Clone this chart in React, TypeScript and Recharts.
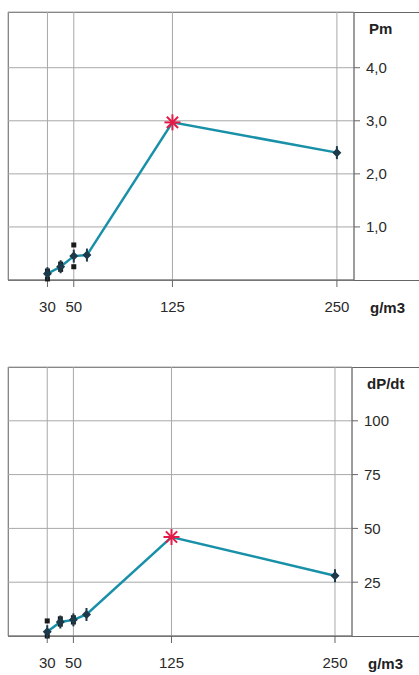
import React from 'react';
import { ComposedChart, Line, Scatter, XAxis, YAxis, CartesianGrid } from 'recharts';

// dust concentration (g/m3)
const dust = [30, 40, 50, 60, 125, 250];
const pmMean = [0.12, 0.25, 0.45, 0.47, 2.97, 2.4];
const dpdtMean = [2, 6.5, 7.5, 10, 46, 28];

// single measurements
const sampleX = [30, 30, 40, 40, 50, 50];
const pmSamples = [0.17, 0.02, 0.2, 0.3, 0.66, 0.25];
const dpdtSamples = [7, 0, 5.5, 8, 6.5, 8.5];

const xTicks = [30, 50, 125, 250];
const pmTicks = [1, 2, 3, 4];
const dpdtTicks = [25, 50, 75, 100];

const FONT = '"Liberation Sans", Arial, sans-serif';
const GRID = '#a8a8a8';
const AXIS = '#666';
const LINE = '#1890a8';
const MARK = '#1c3a4a';
const STAR = '#e31b48';

const MeanDot = (props: any) => {
  const { cx, cy, payload, index } = props;
  if (cx == null || cy == null) return null;
  if (payload.x === 125) {
    const r = 8;
    return (
      <g key={`d-${index}`} stroke={STAR} strokeWidth={2}>
        <line x1={cx - r} y1={cy} x2={cx + r} y2={cy} />
        <line x1={cx} y1={cy - r} x2={cx} y2={cy + r} />
        <line x1={cx - r * 0.7} y1={cy - r * 0.7} x2={cx + r * 0.7} y2={cy + r * 0.7} />
        <line x1={cx - r * 0.7} y1={cy + r * 0.7} x2={cx + r * 0.7} y2={cy - r * 0.7} />
      </g>
    );
  }
  return (
    <g key={`d-${index}`}>
      <path d={`M${cx},${cy - 4.5}L${cx + 4.5},${cy}L${cx},${cy + 4.5}L${cx - 4.5},${cy}Z`} fill={MARK} />
      <line x1={cx} y1={cy - 6.5} x2={cx} y2={cy + 6.5} stroke={MARK} strokeWidth={2} />
    </g>
  );
};

const Square = (props: any) => {
  const { cx, cy } = props;
  return <rect x={cx - 2.5} y={cy - 2.5} width={5} height={5} fill="#1a1a1a" />;
};

const fmtPm = (v: number) => v.toFixed(1).replace('.', ',');

interface PanelProps {
  top: number;
  height: number;
  axisW: number;
  lineData: { x: number; y: number }[];
  sampleData: { x: number; y: number }[];
  yMax: number;
  yTicks: number[];
  yFmt?: (v: number) => string;
  yTitle: string;
}

const Panel: React.FC<PanelProps> = ({ top, height, axisW, lineData, sampleData, yMax, yTicks, yFmt, yTitle }) => {
  const plotBottom = height - 5 - 35;
  return (
    <div style={{ position: 'absolute', left: 0, top, width: 419, height }}>
      <div
        style={{
          position: 'absolute',
          left: 8,
          top: 12,
          width: 420,
          height: plotBottom - 12 + 1,
          boxSizing: 'border-box',
          borderTop: `1px solid ${AXIS}`,
          borderLeft: `1px solid ${AXIS}`,
          borderBottom: `1px solid ${AXIS}`,
        }}
      />
      <ComposedChart width={419} height={height} margin={{ top: 12, right: 0, left: 8, bottom: 5 }} style={{ position: 'absolute', left: 0, top: 0 }}>
        <CartesianGrid stroke={GRID} strokeWidth={1} />
        <XAxis
          type="number"
          dataKey="x"
          domain={[0, 263]}
          ticks={xTicks}
          interval={0}
          height={35}
          axisLine={{ stroke: AXIS }}
          tickLine={{ stroke: AXIS }}
          tickSize={7}
          tickMargin={14}
          tick={{ fill: '#2a2a2a', fontSize: 15, fontFamily: FONT }}
          label={(p: any) => {
            const vb = p.viewBox;
            return (
              <text x={vb.x + vb.width + 16} y={vb.y + 33} fill="#222" fontSize={15} fontWeight="bold" fontFamily={FONT}>
                g/m3
              </text>
            );
          }}
        />
        <YAxis
          type="number"
          dataKey="y"
          orientation="right"
          width={axisW}
          domain={[0, yMax]}
          ticks={yTicks}
          interval={0}
          axisLine={{ stroke: AXIS }}
          tickLine={{ stroke: AXIS }}
          tickSize={6}
          tickMargin={6}
          tickFormatter={yFmt}
          tick={{ fill: '#2a2a2a', fontSize: 15, fontFamily: FONT, textAnchor: 'start' }}
          label={(p: any) => {
            const vb = p.viewBox;
            return (
              <text x={vb.x + 15} y={vb.y + 22} fill="#222" fontSize={15} fontWeight="bold" fontFamily={FONT}>
                {yTitle}
              </text>
            );
          }}
        />
        <Scatter data={sampleData} shape={Square} isAnimationActive={false} />
        <Line
          data={lineData}
          dataKey="y"
          type="linear"
          stroke={LINE}
          strokeWidth={2.5}
          dot={MeanDot}
          activeDot={false}
          isAnimationActive={false}
        />
      </ComposedChart>
    </div>
  );
};

export default function App() {
  const pmLine = dust.map((x, i) => ({ x, y: pmMean[i] }));
  const dpdtLine = dust.map((x, i) => ({ x, y: dpdtMean[i] }));
  const pmPts = sampleX.map((x, i) => ({ x, y: pmSamples[i] }));
  const dpdtPts = sampleX.map((x, i) => ({ x, y: dpdtSamples[i] }));
  return (
    <div style={{ position: 'absolute', left: 0, top: 0, width: 419, height: 675, background: '#fff', overflow: 'hidden', fontFamily: FONT }}>
      <Panel top={0} height={320} axisW={65} lineData={pmLine} sampleData={pmPts} yMax={5.05} yTicks={pmTicks} yFmt={fmtPm} yTitle="Pm" />
      <Panel top={355} height={321} axisW={67} lineData={dpdtLine} sampleData={dpdtPts} yMax={125} yTicks={dpdtTicks} yTitle="dP/dt" />
    </div>
  );
}
